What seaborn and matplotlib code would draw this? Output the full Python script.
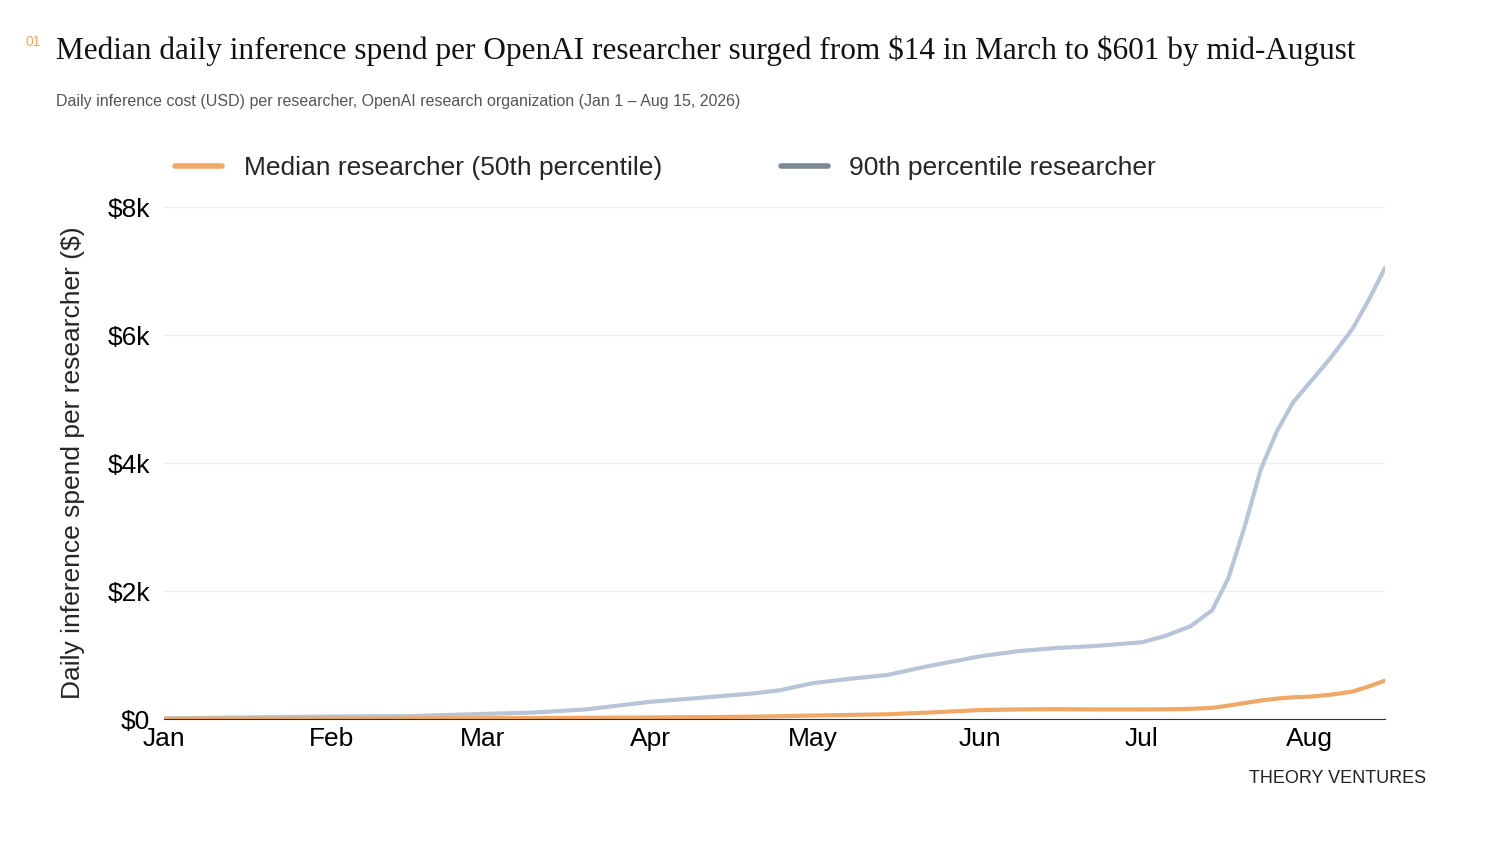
import pandas as pd
import numpy as np
import seaborn as sb
import matplotlib.pyplot as plt
from matplotlib.lines import Line2D

dates = ["2026-01-01", "2026-01-15", "2026-02-01", "2026-02-15", "2026-03-01", "2026-03-10",
         "2026-03-20", "2026-04-01", "2026-04-10", "2026-04-20", "2026-04-25", "2026-05-01",
         "2026-05-08", "2026-05-15", "2026-05-22", "2026-06-01", "2026-06-08", "2026-06-15",
         "2026-06-22", "2026-07-01", "2026-07-05", "2026-07-10", "2026-07-14", "2026-07-17",
         "2026-07-20", "2026-07-23", "2026-07-26", "2026-07-29", "2026-08-01", "2026-08-05",
         "2026-08-09", "2026-08-12", "2026-08-15"]
p90 = [10, 25, 40, 45, 80, 100, 150, 270, 330, 400, 450, 560, 630, 690, 820, 980, 1060,
       1110, 1140, 1200, 1290, 1450, 1700, 2200, 3000, 3900, 4500, 4950, 5250, 5650, 6100,
       6550, 7050]
median = [5, 7, 9, 11, 14, 16, 20, 25, 30, 38, 45, 55, 65, 75, 100, 140, 150, 155, 150,
          150, 152, 160, 175, 210, 250, 290, 320, 340, 350, 380, 430, 510, 601]

df = pd.DataFrame({"date": pd.to_datetime(dates), "p90": p90, "median": median})

sb.set_style("white")
plt.rcParams["font.family"] = ["Liberation Sans", "DejaVu Sans"]
fig = plt.figure(figsize=(15.12, 8.42), dpi=100)
ax = fig.add_axes([0.1085, 0.146, 0.8075, 0.608])

c_med = "#F0A868"
c_p90 = "#B8C5D9"
sb.lineplot(data=df, x="date", y="p90", ax=ax, color=c_p90, lw=3)
sb.lineplot(data=df, x="date", y="median", ax=ax, color=c_med, lw=3)

ax.set_xlim(pd.Timestamp("2026-01-01"), pd.Timestamp("2026-08-15"))
ax.set_ylim(0, 8000)
months = pd.date_range("2026-01-01", "2026-08-01", freq="MS")
ax.set_xticks(months)
ax.set_xticklabels([m.strftime("%b") for m in months], fontsize=19)
ax.set_yticks([0, 2000, 4000, 6000, 8000])
ax.set_yticklabels(["$0", "$2k", "$4k", "$6k", "$8k"], fontsize=19)
ax.yaxis.grid(True, color="#EEEEEE", lw=1)
for s in ["top", "right", "left"]:
    ax.spines[s].set_visible(False)
ax.spines["bottom"].set_color("#333333")
ax.tick_params(axis="x", length=5, pad=1, color="#333333", labelcolor="#000000")
ax.tick_params(axis="y", length=0, pad=10, labelcolor="#000000")
ax.set_xlabel("")
ax.set_ylabel("Daily inference spend per researcher ($)", fontsize=19, labelpad=16)

handles = [Line2D([], [], color=c_med, lw=4), Line2D([], [], color="#7C8796", lw=4)]
fig.legend(handles, ["Median researcher (50th percentile)", "90th percentile researcher"],
           loc="center left", bbox_to_anchor=(0.1, 0.8), ncol=2, frameon=False,
           fontsize=19, handlelength=1.8, columnspacing=4.5)

fig.text(0.017, 0.945, "01", fontsize=10, color=c_med)
fig.text(0.037, 0.94, r"Median daily inference spend per OpenAI researcher surged from \$14 in March to \$601 by mid-August",
         fontsize=22.5, family="Liberation Serif", color="#111111", va="center")
fig.text(0.037, 0.879, "Daily inference cost (USD) per researcher, OpenAI research organization (Jan 1 – Aug 15, 2026)",
         fontsize=11.5, color="#555555", va="center")
fig.text(0.943, 0.076, "THEORY VENTURES", fontsize=13, color="#222222", ha="right", va="center")

fig.savefig("out.png", dpi=100)
